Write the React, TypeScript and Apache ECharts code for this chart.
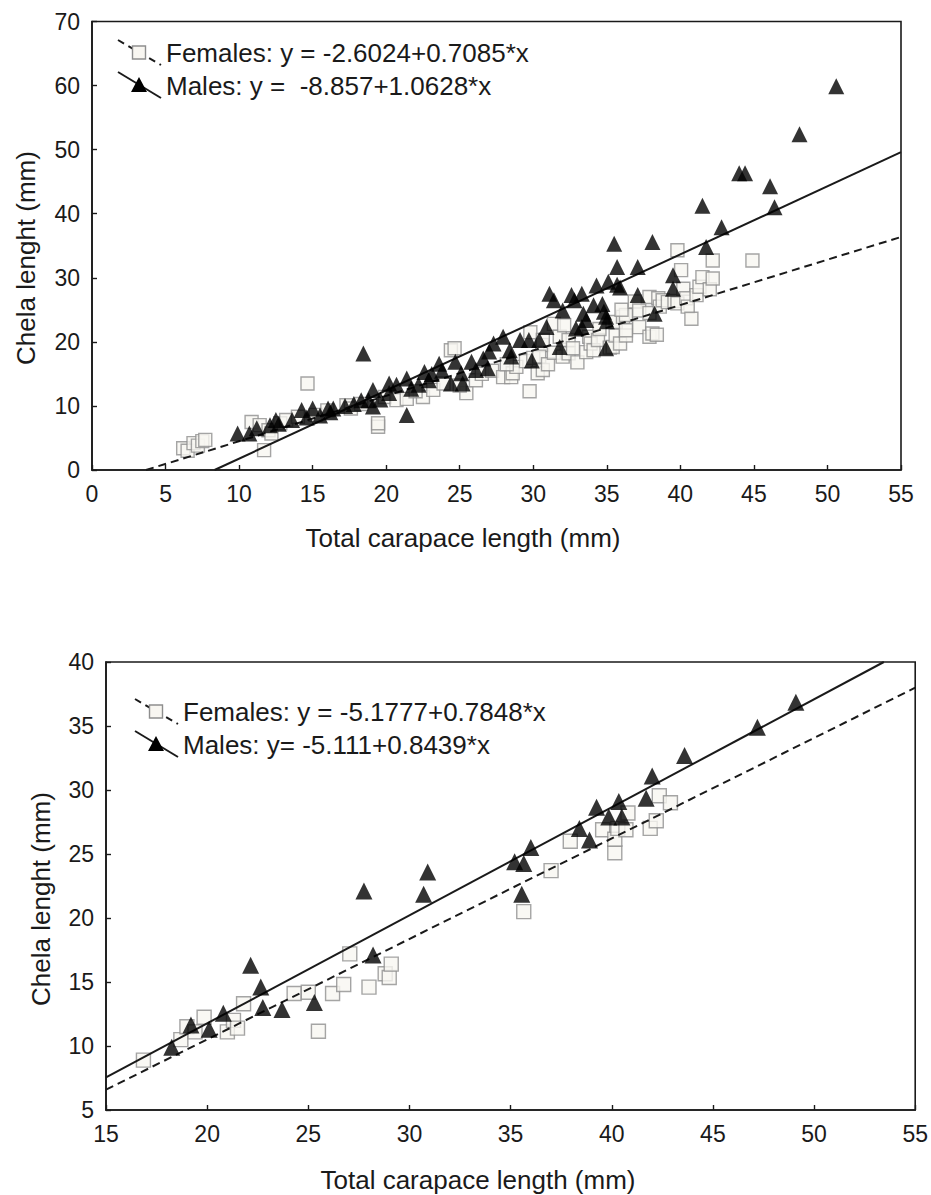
import React, { useEffect, useRef } from "react";
import * as echarts from "echarts";

const FONT = '"Liberation Sans", Arial, Helvetica, sans-serif';

// ---------- Top panel data ----------
const topFemales: number[][] = [
  [6.2, 3.4], [6.5, 3.0], [6.9, 4.2], [7.2, 3.8], [7.5, 4.5], [7.7, 4.7],
  [10.85, 7.5], [11.4, 7.0], [11.7, 3.1], [12.0, 6.2], [12.2, 5.7], [12.8, 7.3], [13.2, 7.8],
  [14.0, 8.3], [14.65, 13.5], [15.2, 8.6], [16.0, 9.3],
  [17.3, 10.1], [17.6, 9.6], [18.3, 10.3], [19.45, 6.75], [19.45, 7.3], [19.9, 11.4],
  [20.7, 10.9], [21.4, 11.1], [22.5, 11.4], [23.2, 12.5], [22.0, 12.3],
  [23.9, 13.5], [24.4, 18.7], [24.65, 19.0], [25.45, 12.0], [25.0, 13.2], [26.1, 14.0],
  [26.5, 15.0], [27.2, 15.5], [27.95, 14.5], [28.5, 14.5], [28.6, 15.1], [28.85, 16.1],
  [28.2, 16.5], [29.75, 12.3], [29.5, 17.0], [29.8, 21.5], [30.0, 17.5], [30.3, 15.1],
  [30.6, 19.5], [30.4, 17.7], [30.65, 20.3], [30.65, 15.6], [31.0, 16.5], [31.4, 18.3],
  [31.4, 22.8], [31.8, 20.8], [32.0, 17.7], [32.1, 22.6], [32.4, 20.3], [32.4, 18.2],
  [32.7, 19.0], [33.0, 16.8], [33.6, 18.4], [33.8, 20.8], [33.9, 19.75], [34.1, 18.7],
  [34.4, 20.3], [34.5, 22.0], [35.2, 19.1], [35.4, 19.2], [35.6, 21.0], [35.9, 19.75],
  [35.6, 23.1], [36.1, 23.9], [36.3, 21.0], [36.3, 21.8], [36.3, 24.2], [36.0, 25.0],
  [36.9, 26.3], [37.2, 24.9], [37.2, 22.3], [37.9, 20.8], [37.9, 24.5], [37.9, 27.0],
  [38.1, 21.3], [38.4, 21.1], [38.5, 26.8], [38.6, 25.5], [38.8, 26.5], [39.15, 26.2],
  [39.6, 26.4], [39.8, 26.0], [39.8, 34.3], [40.05, 31.2], [40.2, 28.3], [40.4, 26.8],
  [40.5, 25.5], [40.75, 23.6], [41.1, 27.3], [41.3, 28.6], [41.5, 30.1], [42.0, 28.2],
  [42.2, 29.9], [42.2, 32.7], [44.9, 32.7],
];

const topMales: number[][] = [
  [9.9, 5.7], [10.7, 5.7], [11.2, 6.5], [12.1, 7.0], [12.5, 7.8], [12.7, 7.2], [13.6, 7.8],
  [14.25, 9.35], [14.6, 8.2], [15.0, 9.6], [15.5, 8.5], [16.05, 9.6], [16.4, 9.6], [16.2, 9.0],
  [17.2, 10.0], [17.8, 10.3], [18.3, 10.9], [18.45, 18.2], [18.8, 10.9], [19.1, 12.5],
  [19.1, 9.9], [19.6, 11.0], [20.2, 13.5], [20.7, 13.3], [20.2, 12.0], [21.4, 8.6],
  [21.4, 14.3], [21.7, 12.7], [22.2, 13.3], [22.6, 15.3], [22.9, 14.0], [23.1, 15.0],
  [23.6, 16.6], [23.8, 15.5], [24.4, 13.5], [24.7, 16.9], [25.1, 15.1], [25.2, 13.5],
  [25.8, 16.9], [26.1, 15.6], [26.6, 17.4], [26.9, 15.9], [27.0, 18.5], [27.3, 19.75],
  [27.95, 20.8], [28.5, 17.7], [28.4, 18.7], [29.1, 20.3], [29.7, 20.3], [29.9, 17.1],
  [30.4, 20.3], [30.9, 22.3], [31.1, 27.5], [31.4, 26.5], [31.8, 19.2], [32.0, 24.9],
  [32.6, 27.3], [32.8, 26.5], [32.9, 22.1], [33.3, 27.5], [33.3, 22.3], [33.4, 24.4],
  [33.6, 23.4], [34.1, 25.7], [34.3, 28.8], [34.7, 25.9], [34.8, 24.7], [34.95, 23.9],
  [35.0, 23.2], [34.95, 19.0], [35.1, 29.4], [35.5, 35.3], [35.7, 31.7], [35.7, 28.9],
  [35.9, 28.5], [37.1, 31.7], [37.1, 27.3], [38.1, 35.6], [38.25, 24.4], [39.5, 30.4],
  [39.5, 28.3], [41.5, 41.25], [41.75, 34.8], [42.8, 37.9], [44.0, 46.3], [44.4, 46.3],
  [46.1, 44.3], [46.4, 41.0], [48.1, 52.4], [50.6, 59.9],
];

const topFemaleLine: number[][] = [[3.67, 0], [55, 36.37]];
const topMaleLine: number[][] = [[8.33, 0], [55, 49.6]];

// ---------- Bottom panel data ----------
const bottomFemales: number[][] = [
  [16.85, 8.9], [18.7, 10.5], [19.0, 11.5], [19.4, 11.1], [19.85, 12.25], [21.0, 11.1],
  [21.3, 12.0], [21.5, 11.4], [21.8, 13.3], [24.3, 14.1], [25.0, 14.2], [25.5, 11.15],
  [26.2, 14.1], [26.75, 14.8], [27.05, 17.2], [28.0, 14.6], [28.8, 15.65], [29.0, 15.35],
  [29.1, 16.4], [35.65, 20.5], [37.0, 23.7], [37.95, 26.0], [39.55, 26.9], [40.15, 25.1],
  [40.15, 26.15], [40.3, 27.0], [40.7, 26.9], [40.8, 28.2], [41.9, 27.0], [42.2, 27.6],
  [42.35, 29.55], [42.9, 29.0],
];

const bottomMales: number[][] = [
  [18.25, 9.9], [19.2, 11.65], [20.1, 11.3], [20.8, 12.55], [22.15, 16.3], [22.65, 14.6],
  [22.75, 13.0], [23.7, 12.85], [25.3, 13.4], [27.75, 22.1], [28.2, 17.1], [30.7, 21.85],
  [30.9, 23.6], [35.2, 24.4], [35.65, 24.25], [35.55, 21.85], [36.0, 25.5], [38.4, 27.0],
  [38.9, 26.1], [39.25, 28.65], [39.85, 27.9], [40.35, 29.1], [40.5, 27.9], [41.7, 29.35],
  [42.0, 31.1], [43.6, 32.7], [47.2, 34.9], [49.1, 36.85],
];

const bottomFemaleLine: number[][] = [[15, 6.59], [55, 37.99]];
const bottomMaleLine: number[][] = [[15, 7.55], [53.45, 40]];

// ---------- Texts / axis ranges ----------
const topLegend = ["Females: y = -2.6024+0.7085*x", "Males: y =  -8.857+1.0628*x"];
const bottomLegend = ["Females: y = -5.1777+0.7848*x", "Males: y= -5.111+0.8439*x"];
const xTitle = "Total carapace length (mm)";
const yTitle = "Chela lenght (mm)";
const topXRange = [0, 55, 5];
const topYRange = [0, 70, 10];
const bottomXRange = [15, 55, 5];
const bottomYRange = [5, 40, 5];

const INK = "#1a1a1a";
const SQ_FILL = "#f8f6f1";
const SQ_EDGE = "#8e8e8e";

function axis(gridIndex: number, r: number[]) {
  return {
    type: "value",
    gridIndex,
    min: r[0],
    max: r[1],
    interval: r[2],
    axisLine: { show: true, onZero: false, lineStyle: { color: INK, width: 1.6 } },
    axisTick: { show: true, inside: true, length: 5, lineStyle: { color: INK, width: 1.4 } },
    axisLabel: { fontSize: 23, color: INK, fontFamily: FONT, margin: 12 },
    splitLine: { show: false },
  };
}

function seriesFor(idx: number, females: number[][], males: number[][], fLine: number[][], mLine: number[][], sqSize: number, triSize: number) {
  return [
    {
      type: "scatter", xAxisIndex: idx, yAxisIndex: idx, data: females, symbol: "rect", symbolSize: sqSize,
      itemStyle: { color: SQ_FILL, borderColor: SQ_EDGE, borderWidth: 1.4 }, z: 2, silent: true,
    },
    {
      type: "line", xAxisIndex: idx, yAxisIndex: idx, data: fLine, symbol: "none", showSymbol: false,
      lineStyle: { color: INK, width: 2, type: [8, 5] }, z: 3, silent: true,
    },
    {
      type: "line", xAxisIndex: idx, yAxisIndex: idx, data: mLine, symbol: "none", showSymbol: false,
      lineStyle: { color: INK, width: 2 }, z: 3, silent: true,
    },
    {
      type: "scatter", xAxisIndex: idx, yAxisIndex: idx, data: males, symbol: "triangle", symbolSize: triSize,
      itemStyle: { color: "#000000" }, z: 4, silent: true,
    },
  ];
}

function legendGraphics(ox: number, oy: number, texts: string[]) {
  const t = (text: string, x: number, y: number) => ({
    type: "text", x, y, z: 10,
    style: { text, fontSize: 26, fontFamily: FONT, fill: INK, align: "left", verticalAlign: "middle" },
  });
  return [
    { type: "line", z: 9, shape: { x1: ox, y1: oy, x2: ox + 43, y2: oy + 25 }, style: { stroke: INK, lineWidth: 2, lineDash: [7, 5] } },
    { type: "rect", z: 10, shape: { x: ox + 14.5, y: oy + 6, width: 13, height: 13 }, style: { fill: SQ_FILL, stroke: SQ_EDGE, lineWidth: 1.4 } },
    { type: "line", z: 9, shape: { x1: ox, y1: oy + 32, x2: ox + 43, y2: oy + 58 }, style: { stroke: INK, lineWidth: 2 } },
    { type: "polygon", z: 10, shape: { points: [[ox + 21, oy + 37], [ox + 29, oy + 52], [ox + 13, oy + 52]] }, style: { fill: "#000000" } },
    t(texts[0], ox + 48, oy + 13),
    t(texts[1], ox + 48, oy + 46),
  ];
}

function titleGraphics(xc: number, xy: number, yx: number, yc: number) {
  return [
    { type: "text", x: xc, y: xy, z: 10, style: { text: xTitle, fontSize: 26, fontFamily: FONT, fill: INK, align: "center", verticalAlign: "middle" } },
    { type: "text", x: yx, y: yc, rotation: Math.PI / 2, z: 10, style: { text: yTitle, fontSize: 26, fontFamily: FONT, fill: INK, align: "center", verticalAlign: "middle" } },
  ];
}

export default function App() {
  const ref = useRef<HTMLDivElement>(null);
  useEffect(() => {
    document.body.style.margin = "0";
    if (!ref.current) return;
    const chart = echarts.init(ref.current, undefined, { renderer: "svg" });
    chart.setOption({
      animation: false,
      backgroundColor: "#ffffff",
      grid: [
        { left: 92, top: 21.5, width: 809, height: 448.5, show: true, borderColor: INK, borderWidth: 1.6, backgroundColor: "transparent" },
        { left: 106, top: 662, width: 810, height: 448, show: true, borderColor: INK, borderWidth: 1.6, backgroundColor: "transparent" },
      ],
      xAxis: [axis(0, topXRange), axis(1, bottomXRange)],
      yAxis: [axis(0, topYRange), axis(1, bottomYRange)],
      series: [
        ...seriesFor(0, topFemales, topMales, topFemaleLine, topMaleLine, 13, 16),
        ...seriesFor(1, bottomFemales, bottomMales, bottomFemaleLine, bottomMaleLine, 14, 17),
      ],
      graphic: [
        ...legendGraphics(118, 40, topLegend),
        ...legendGraphics(135, 699, bottomLegend),
        ...titleGraphics(463, 538, 26, 258),
        ...titleGraphics(478, 1180, 41, 899),
      ],
    });
    return () => chart.dispose();
  }, []);
  return <div ref={ref} style={{ width: 931, height: 1195 }} />;
}
